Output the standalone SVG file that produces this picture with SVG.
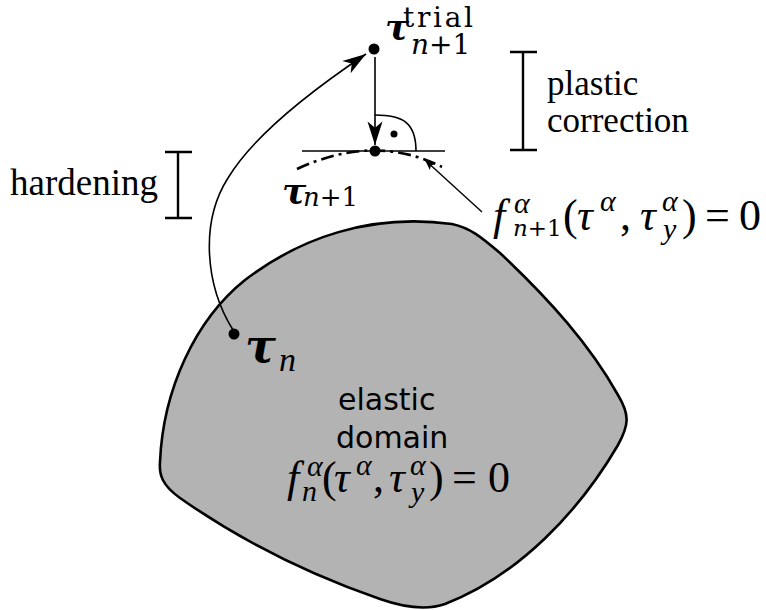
<svg xmlns="http://www.w3.org/2000/svg" width="766" height="610" viewBox="0 0 766 610">
<style>
.rm{font-family:"Liberation Serif","DejaVu Serif",serif;fill:#000}
.it{font-family:"Liberation Serif","DejaVu Serif",serif;font-style:italic;fill:#000}
.dr{font-family:"DejaVu Serif","Liberation Serif",serif;fill:#000}
.di{font-family:"DejaVu Serif","Liberation Serif",serif;font-style:italic;fill:#000}
.bt{font-family:"DejaVu Serif","Liberation Serif",serif;font-style:italic;font-weight:bold;fill:#000}
.ss{font-family:"DejaVu Sans","Liberation Sans",sans-serif;fill:#000}
.ln{fill:none;stroke:#000;stroke-width:1.6}
.br{fill:none;stroke:#000;stroke-width:2.4}
.m{font-size:44px}
.s{font-size:30px}
</style>
<defs>
<marker id="ah" markerUnits="userSpaceOnUse" markerWidth="30" markerHeight="30" viewBox="-24 -12 28 24" refX="0" refY="0" orient="auto">
<path d="M0,0 L-22,-7 L-16,0 L-22,7 Z" fill="#000"/>
</marker>
<marker id="ahs" markerUnits="userSpaceOnUse" markerWidth="16" markerHeight="16" viewBox="-12 -6 14 12" refX="0" refY="0" orient="auto">
<path d="M0,0 L-9,-3.5 L-7,0 L-9,3.5 Z" fill="#000"/>
</marker>
</defs>
<rect width="766" height="610" fill="#fff"/>
<g id="elastic-domain">
<path d="M 160 462 C 163 390, 195 320, 245 280 C 300 238, 370 213, 452 224 C 470 228, 480 236, 500 253 C 550 300, 590 345, 618 395 C 630 415, 629 425, 618 445 C 580 510, 520 575, 445 604 C 425 611, 400 606, 380 599 C 310 575, 240 540, 180 498 C 162 485, 159 475, 160 462 Z" fill="#b3b3b3" stroke="#000" stroke-width="2.6"/>
<text class="ss" x="338" y="410" font-size="30">elastic</text>
<text class="ss" x="336" y="448" font-size="30">domain</text>
<text class="it m" x="287" y="492">f</text>
<text class="it s" x="307" y="476">α</text>
<text class="it s" x="302" y="501">n</text>
<text class="rm m" x="322" y="492">(</text>
<text class="it m" x="334" y="492">τ</text>
<text class="it s" x="356" y="475">α</text>
<text class="rm m" x="373" y="492">,</text>
<text class="it m" x="389" y="492">τ</text>
<text class="it s" x="410" y="475">α</text>
<text class="it s" x="411" y="502">y</text>
<text class="rm m" x="429" y="492">)</text>
<text class="rm m" x="452" y="492">=</text>
<text class="rm m" x="488" y="492">0</text>
</g>
<g id="tau-n">
<circle cx="234" cy="334" r="5.5" fill="#000"/>
<text class="bt" x="245" y="362" font-size="46">τ</text>
<text class="it" x="279" y="371" font-size="34">n</text>
</g>
<g id="tau-trial">
<circle cx="374" cy="49" r="5.5" fill="#000"/>
<text class="bt" x="385" y="39" font-size="36">τ</text>
<text class="dr" x="403" y="27" font-size="28" textLength="70" lengthAdjust="spacing">trial</text>
<text class="di" x="411" y="54" font-size="28">n<tspan class="dr" font-style="normal">+1</tspan></text>
</g>
<g id="tau-n1">
<circle cx="375" cy="151" r="5.5" fill="#000"/>
<text class="bt" x="282" y="203" font-size="36">τ</text>
<text class="di" x="303" y="206" font-size="26">n<tspan class="dr" font-style="normal">+1</tspan></text>
</g>
<g id="yield-surface">
<line class="ln" x1="302" y1="151" x2="445" y2="151"/>
<path d="M 297 169 Q 375 133 442 167" fill="none" stroke="#000" stroke-width="2.6" stroke-dasharray="13 5 3 5"/>
<path class="ln" d="M 375 115 C 402 115, 416 122, 416 151"/>
<circle cx="394" cy="134" r="3.5" fill="#000"/>
</g>
<g id="formula-n1">
<text class="it m" x="493" y="230">f</text>
<text class="it s" x="514" y="213">α</text>
<text class="di" x="513" y="236" font-size="23">n<tspan class="dr" font-style="normal">+1</tspan></text>
<text class="rm m" x="563" y="230">(</text>
<text class="it m" x="577" y="230">τ</text>
<text class="it s" x="600" y="211">α</text>
<text class="rm m" x="620" y="230">,</text>
<text class="it m" x="640" y="230">τ</text>
<text class="it s" x="662" y="211">α</text>
<text class="it s" x="663" y="239">y</text>
<text class="rm m" x="682" y="230">)</text>
<text class="rm m" x="705" y="230">=</text>
<text class="rm m" x="739" y="230">0</text>
</g>
<g id="hardening">
<text class="rm" x="10" y="195" font-size="37">hardening</text>
<path class="br" d="M 165 152 H 192 M 178 152 V 218 M 165 218 H 192"/>
</g>
<g id="plastic-correction">
<path class="br" d="M 510 52 H 537 M 523 52 V 150 M 510 150 H 537"/>
<text class="rm" x="547" y="95" font-size="35">plastic</text>
<text class="rm" x="547" y="132" font-size="35">correction</text>
</g>
<g id="connectors">
<path class="ln" d="M 233 330 C 205 285, 200 222, 228 178 C 252 138, 305 95, 366 54" marker-end="url(#ah)"/>
<line class="ln" x1="375" y1="57" x2="375" y2="145" marker-end="url(#ah)"/>
<line x1="482" y1="212" x2="425" y2="160" stroke="#000" stroke-width="1.4" marker-end="url(#ahs)"/>
</g>
</svg>
